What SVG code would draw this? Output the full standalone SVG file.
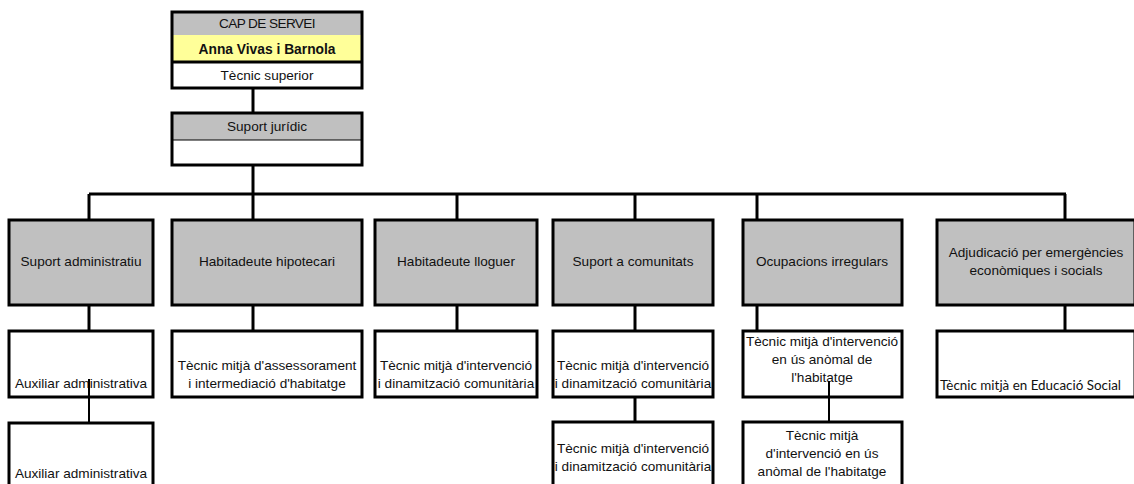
<svg xmlns="http://www.w3.org/2000/svg" width="1134" height="484" viewBox="0 0 1134 484">
<style>
.box{stroke:#000;stroke-width:3;}
.g{fill:#c0c0c0;}
.w{fill:#fff;}
.y{fill:#ffff99;}
.t{font-family:"Liberation Sans",Arial,sans-serif;font-size:13.6px;fill:#111;text-anchor:middle;}
.b{font-weight:bold;font-size:13.8px;}
.c{stroke:#000;stroke-width:3;fill:none;}
.thin{stroke:#000;stroke-width:2;fill:none;}
.cal{font-family:Lato,"Open Sans",sans-serif;font-size:12.5px;fill:#111;}
</style>
<rect width="1134" height="484" fill="#fff"/>
<g id="cap">
<rect class="g" x="172" y="12" width="190" height="23"/>
<rect class="y" x="172" y="35" width="190" height="27"/>
<rect class="w" x="172" y="62" width="190" height="26"/>
<rect x="172" y="12" width="190" height="76" fill="none" class="box"/>
<line x1="172" y1="62" x2="362" y2="62" class="c"/>
<text class="t" x="267" y="28" font-size="12.8" letter-spacing="-0.6">CAP DE SERVEI</text>
<text class="t b" x="267" y="54">Anna Vivas i Barnola</text>
<text class="t" x="267" y="80">Tècnic superior</text>
</g>
<g id="juridic">
<rect class="g" x="172" y="113" width="190" height="27"/>
<rect class="w" x="172" y="140" width="190" height="25"/>
<rect x="172" y="113" width="190" height="52" fill="none" class="box"/>
<line x1="172" y1="140" x2="362" y2="140" stroke="#000" stroke-width="1"/>
<text class="t" x="267" y="131">Suport jurídic</text>
</g>
<g id="h1"><rect class="box g" x="9" y="220" width="144" height="85"/><text class="t" x="81" y="266">Suport administratiu</text></g>
<g id="h2"><rect class="box g" x="172" y="220" width="190" height="85"/><text class="t" x="267" y="266">Habitadeute hipotecari</text></g>
<g id="h3"><rect class="box g" x="375" y="220" width="162" height="85"/><text class="t" x="456" y="266">Habitadeute lloguer</text></g>
<g id="h4"><rect class="box g" x="553" y="220" width="160" height="85"/><text class="t" x="633" y="266">Suport a comunitats</text></g>
<g id="h5"><rect class="box g" x="743" y="220" width="159" height="85"/><text class="t" x="822" y="266">Ocupacions irregulars</text></g>
<g id="h6"><rect class="box g" x="937" y="220" width="198" height="85"/><text class="t" x="1036" y="257">Adjudicació per emergències</text><text class="t" x="1036" y="275">econòmiques i socials</text></g>
<g id="a1"><rect class="box w" x="9" y="331" width="144" height="66"/><text class="t" x="81" y="388">Auxiliar administrativa</text></g>
<g id="a2"><rect class="box w" x="9" y="423" width="144" height="70"/><text class="t" x="81" y="478">Auxiliar administrativa</text></g>
<g id="b1"><rect class="box w" x="172" y="331" width="190" height="66"/><text class="t" x="267" y="370">Tècnic mitjà d'assessorament</text><text class="t" x="267" y="388">i intermediació d'habitatge</text></g>
<g id="c1"><rect class="box w" x="375" y="331" width="162" height="66"/><text class="t" x="456" y="370">Tècnic mitjà d'intervenció</text><text class="t" x="456" y="388">i dinamització comunitària</text></g>
<g id="d1"><rect class="box w" x="553" y="331" width="160" height="66"/><text class="t" x="633" y="370">Tècnic mitjà d'intervenció</text><text class="t" x="633" y="388">i dinamització comunitària</text></g>
<g id="d2"><rect class="box w" x="553" y="422" width="160" height="70"/><text class="t" x="633" y="453">Tècnic mitjà d'intervenció</text><text class="t" x="633" y="471">i dinamització comunitària</text></g>
<g id="e1"><rect class="box w" x="743" y="331" width="159" height="66"/><text class="t" x="822" y="346">Tècnic mitjà d'intervenció</text><text class="t" x="822" y="364">en ús anòmal de</text><text class="t" x="822" y="382">l'habitatge</text></g>
<g id="e2"><rect class="box w" x="743" y="422" width="159" height="70"/><text class="t" x="822" y="440">Tècnic mitjà</text><text class="t" x="822" y="458">d'intervenció en ús</text><text class="t" x="822" y="476">anòmal de l'habitatge</text></g>
<g id="f1"><rect class="box w" x="937" y="331" width="198" height="66"/><text class="cal" x="940" y="390" textLength="181" lengthAdjust="spacingAndGlyphs">Tècnic mitjà en Educació Social</text></g>
<g id="connectors">
<line class="c" x1="253" y1="88" x2="253" y2="113"/>
<line class="c" x1="253" y1="165" x2="253" y2="220"/>
<line class="c" x1="89" y1="194" x2="1066" y2="194"/>
<line class="c" x1="89" y1="194" x2="89" y2="220"/>
<line class="c" x1="457" y1="194" x2="457" y2="220"/>
<line class="c" x1="635" y1="194" x2="635" y2="220"/>
<line class="c" x1="757" y1="194" x2="757" y2="220"/>
<line class="c" x1="1065" y1="194" x2="1065" y2="220"/>
<line class="c" x1="89" y1="305" x2="89" y2="331"/>
<line class="c" x1="253" y1="305" x2="253" y2="331"/>
<line class="c" x1="457" y1="305" x2="457" y2="331"/>
<line class="c" x1="635" y1="305" x2="635" y2="331"/>
<line class="c" x1="757" y1="305" x2="757" y2="331"/>
<line class="c" x1="1065" y1="305" x2="1065" y2="331"/>
<line class="c" x1="635" y1="397" x2="635" y2="422"/>
<line class="thin" x1="89" y1="379" x2="89" y2="422"/>
<line class="thin" x1="829" y1="381" x2="829" y2="421"/>
</g>
</svg>
